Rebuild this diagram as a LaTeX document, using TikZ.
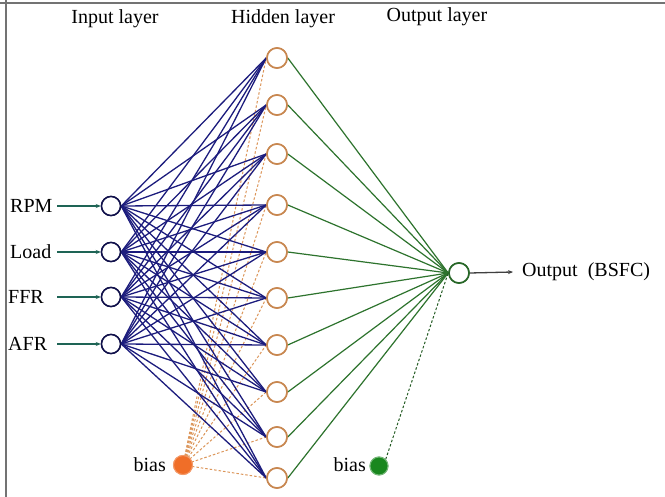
\documentclass[tikz,border=0pt]{standalone}
\usepackage{fontspec}
\setmainfont{Liberation Serif}
\usetikzlibrary{arrows.meta}
\definecolor{wblue}{RGB}{28,28,125}
\definecolor{wgreen}{RGB}{45,115,45}
\definecolor{hidorange}{RGB}{200,135,80}
\definecolor{biasorange}{RGB}{240,110,40}
\definecolor{biasgreen}{RGB}{25,135,30}
\definecolor{dashorange}{RGB}{220,150,90}
\definecolor{inteal}{RGB}{30,100,85}
\begin{document}
\begin{tikzpicture}[x=1pt,y=-1pt,
  lbl/.style={font=\fontsize{20}{23}\selectfont, inner sep=0pt},
  innode/.style={circle, draw=wblue!60!black, line width=1.5pt, fill=white, minimum size=19pt, inner sep=0pt},
  hidnode/.style={circle, draw=hidorange, line width=1.6pt, fill=white, minimum size=20pt, inner sep=0pt},
  outnode/.style={circle, draw=wgreen!90!black, line width=1.6pt, fill=white, minimum size=20pt, inner sep=0pt},
  obias/.style={circle, draw=biasorange!70!white, line width=1pt, fill=biasorange, minimum size=19pt, inner sep=0pt},
  gbias/.style={circle, draw=biasgreen!60!white, line width=1pt, fill=biasgreen, minimum size=18pt, inner sep=0pt},
  wline/.style={wblue, line width=1.3pt},
  gline/.style={wgreen, line width=1.2pt},
  odash/.style={dashorange, dash pattern=on 2.5pt off 2pt, line width=1pt},
  gdash/.style={wgreen!80!black, dash pattern=on 2.5pt off 2pt, line width=1pt},
  inarrow/.style={inteal, line width=1.5pt, -{Stealth[length=5pt,width=4pt]}},
  outarrow/.style={black!75, line width=1.3pt, -{Stealth[length=5pt,width=4pt]}}]
\useasboundingbox (0,0) rectangle (665,497);
\fill[white] (0,0) rectangle (665,497);
% frame edges
\draw[black!55, line width=2pt] (0,3) -- (665,3);
\draw[black!55, line width=2pt] (6,0) -- (6,497);

% layer titles
\node[lbl] (tin) at (115,19) {Input layer};
\node[lbl] (thid) at (283,19) {Hidden layer};
\node[lbl] (tout) at (437,17) {Output layer};

% input neurons
\foreach \n/\y in {1/206, 2/252, 3/297, 4/344}
  \node[innode] (i\n) at (111,\y) {};
% hidden neurons
\foreach \n/\y in {1/58, 2/105, 3/154, 4/205, 5/252, 6/298, 7/345, 8/392, 9/437, 10/478}
  \node[hidnode] (h\n) at (277,\y) {};
% output neuron and biases
\node[outnode] (o) at (459,273) {};
\node[obias] (b1) at (183,465) {};
\node[gbias] (b2) at (379,466) {};

% connections
\foreach \h in {1,...,10}
  \draw[odash] (b1.center) -- (h\h.west);
\foreach \i in {1,...,4}
  \foreach \h in {1,...,10}
    \draw[wline] (i\i.east) -- (h\h.west);
\foreach \h in {1,...,10}
  \draw[gline] (h\h.east) -- (o.west);
\draw[gdash] (b2.north east) -- (o.west);

% redraw neurons above the wires
\foreach \n/\y in {1/206, 2/252, 3/297, 4/344}
  \node[innode] at (111,\y) {};
\foreach \n/\y in {1/58, 2/105, 3/154, 4/205, 5/252, 6/298, 7/345, 8/392, 9/437, 10/478}
  \node[hidnode] at (277,\y) {};
\node[outnode] at (459,273) {};
\node[obias] at (183,465) {};
\node[gbias] at (379,466) {};

% input labels and arrows
\node[lbl, anchor=west] (lr) at (10,206) {RPM};
\node[lbl, anchor=west] (ll) at (10,252) {Load};
\node[lbl, anchor=west] (lf) at (8,297) {FFR};
\node[lbl, anchor=west] (la) at (8,344) {AFR};
\coordinate (ar) at (57,206);
\coordinate (al) at (57,252);
\coordinate (af) at (57,297);
\coordinate (aa) at (57,344);
\draw[inarrow] (ar) -- (i1.west);
\draw[inarrow] (al) -- (i2.west);
\draw[inarrow] (af) -- (i3.west);
\draw[inarrow] (aa) -- (i4.west);

% output label and arrow
\node[lbl, anchor=west] (lo) at (522,272) {Output\ \ (BSFC)};
\draw[outarrow] (o.east) -- ([xshift=-9pt]lo.west);

% bias labels
\node[lbl, anchor=east] (lb1) at (166,465) {bias};
\node[lbl, anchor=east] (lb2) at (366,465) {bias};
\end{tikzpicture}
\end{document}
